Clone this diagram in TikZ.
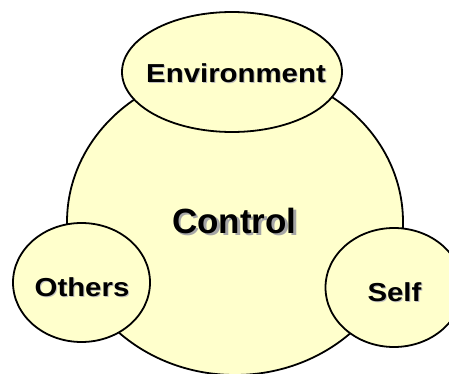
\documentclass[tikz,border=0pt]{standalone}
\usepackage{fontspec}
\setmainfont{Liberation Sans}
\newfontfamily\widefont[FakeStretch=1.13]{Liberation Sans}
\definecolor{paleyellow}{RGB}{255,255,204}
% text with a soft grey shadow behind it
\newcommand{\shadowed}[3]{\makebox[0pt][l]{\hspace{#1}\raisebox{-#1}{\color{black!#2}#3}}#3}
\tikzset{
	bubble/.style={draw=black, line width=1.8pt, fill=paleyellow},
	smalllabel/.style={anchor=base, inner sep=0pt, font=\widefont\bfseries\fontsize{26}{30}\selectfont},
	biglabel/.style={anchor=base, inner sep=0pt, font=\bfseries\fontsize{35}{40}\selectfont},
}
\begin{document}
\begin{tikzpicture}[x=1pt,y=-1pt]
	\useasboundingbox (0,0) rectangle (449,374);
	\begin{scope}
	\clip (0,0) rectangle (449,374);
	\draw[bubble] (235,222) ellipse (168 and 153);
	\draw[bubble] (232,72) ellipse (110 and 60);
	\draw[bubble] (81.5,282.5) ellipse (68.5 and 59.5);
	\draw[bubble] (394,287.5) ellipse (68.5 and 59.5);
	\end{scope}
	\node[biglabel] (control) at (234.5,233) {\shadowed{2.5pt}{35}{Control}};
	\node[smalllabel] (env) at (236,83) {\shadowed{1pt}{25}{Environment}};
	\node[smalllabel] (others) at (82,296) {\shadowed{1pt}{25}{Others}};
	\node[smalllabel] (self) at (394.5,301) {\shadowed{1pt}{25}{Self}};
\end{tikzpicture}
\end{document}
